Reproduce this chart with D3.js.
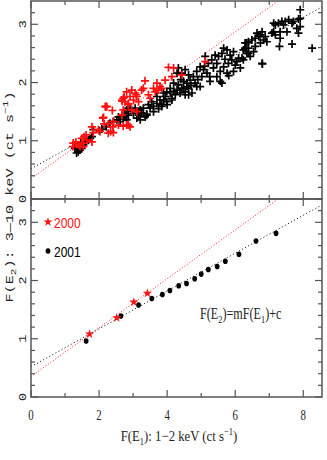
<!DOCTYPE html>
<html>
<head>
<meta charset="utf-8">
<script src="https://cdn.jsdelivr.net/npm/d3@7"></script>
<style>
  body { margin: 0; background: #fff; }
  svg { display: block; }
</style>
</head>
<body>
<div id="chart"></div>
<script>
// top panel: individual observations, 2000 (red) and 2001 (black)
var top2000 = [
  [2.74,1.75],[2.68,1.68],[2.76,1.67],[2.86,1.64],[2.20,1.58],[2.39,1.52],[2.13,1.40],[2.15,1.29],
  [2.27,1.29],[2.40,1.24],[2.34,1.16],[2.27,1.13],[2.42,1.14],[2.57,1.27],[2.71,1.25],[2.86,1.27],
  [1.98,1.19],[1.83,1.14],[1.62,1.10],[1.49,1.04],[1.56,1.07],[1.32,0.98],[1.24,0.96],[1.39,0.93],
  [1.54,0.96],[1.44,0.90],[1.64,1.01],[1.23,0.90],[1.54,0.90],[1.79,0.98],[1.79,1.24],[2.03,1.16],
  [2.42,1.33],[2.67,1.70],[2.96,1.87],[3.09,1.79],[3.25,1.87],[2.23,1.59],[2.11,1.39],[2.18,1.59],
  [4.04,2.26],[4.19,2.25],[3.35,2.03],[3.30,1.90],[3.70,1.99],[3.79,1.93],[3.84,1.90],[3.94,2.04],
  [4.14,2.10],[3.60,1.90],[3.65,1.84],[3.74,1.87],[2.81,1.84],[2.71,1.73],[2.91,1.76],[3.06,1.82],
  [3.11,1.76],[3.01,1.70],[3.16,1.67],[3.45,1.79],[3.50,1.73],[2.86,1.62],[2.96,1.53],[3.11,1.50],
  [2.71,1.53],[2.67,1.44],[2.81,1.27],[2.91,1.24],[5.12,2.36],[4.43,2.13]
];
var top2001 = [
  [1.29,0.87],[1.39,0.81],[1.44,0.84],[1.34,0.79],[1.54,0.93],[1.59,0.98],[1.69,1.01],[1.74,1.04],
  [1.79,1.07],[1.83,1.19],[2.01,1.17],[2.08,1.20],[2.21,1.24],[2.32,1.30],[2.42,1.33],[2.52,1.36],
  [2.57,1.41],[2.67,1.44],[2.76,1.47],[2.81,1.53],[2.86,1.56],[2.62,1.33],[2.71,1.37],[1.49,0.87],
  [1.46,0.96],[2.76,1.41],[2.86,1.44],[3.01,1.47],[3.16,1.44],[3.21,1.53],[3.35,1.41],[3.40,1.46],
  [3.30,1.56],[3.06,1.56],[2.91,1.56],[3.45,1.62],[3.55,1.67],[3.60,1.59],[3.70,1.64],[3.79,1.70],
  [3.84,1.62],[3.94,1.76],[3.99,1.67],[4.09,1.82],[4.14,1.73],[4.24,1.79],[4.29,1.87],[4.33,1.96],
  [4.43,1.90],[4.48,2.02],[4.58,1.93],[4.63,2.13],[4.43,2.16],[4.29,2.16],[4.53,2.22],[4.33,2.25],
  [4.09,1.90],[3.99,1.84],[3.89,1.82],[3.70,1.76],[3.50,1.56],[3.21,1.36],[2.81,1.36],[4.63,1.79],
  [4.53,1.84],[4.19,1.99],[4.48,1.90],[4.58,1.99],[4.68,2.04],[4.77,2.10],[4.87,2.19],[4.97,2.27],
  [5.07,2.22],[5.21,2.33],[5.31,2.39],[5.41,2.47],[5.51,2.45],[5.61,2.50],[5.66,2.59],[5.76,2.56],
  [5.85,2.47],[5.90,2.39],[5.80,2.33],[5.66,2.27],[5.56,2.19],[5.46,2.10],[5.36,2.25],[5.17,2.16],
  [5.02,2.10],[4.82,1.99],[4.63,1.90],[4.53,1.79],[5.95,2.53],[6.10,2.42],[6.15,2.25],[6.29,2.59],
  [6.34,2.68],[6.39,2.50],[5.61,1.99],[5.26,2.02],[4.97,1.93],[4.73,1.82],[5.76,2.16],[6.05,2.36],
  [6.24,2.39],[5.46,2.33],[5.12,2.45],[5.56,2.02],[5.95,2.19],[5.81,2.12],[4.87,1.93],[4.38,1.82],
  [4.14,1.70],[3.84,1.59],[3.40,1.44],[3.11,1.39],[7.18,2.99],[7.27,3.02],[7.37,3.05],[7.42,2.99],
  [7.57,3.08],[7.67,3.02],[7.71,3.05],[7.86,3.09],[7.91,2.96],[7.08,2.85],[7.13,2.87],[7.18,2.82],
  [7.52,2.87],[7.81,2.93],[7.86,2.85],[7.32,2.76],[7.30,2.62],[7.67,2.66],[8.26,2.59],[6.79,2.33],
  [6.29,2.68],[6.39,2.70],[6.49,2.73],[6.59,2.76],[6.69,2.79],[6.74,2.82],[6.83,2.73],[6.64,2.85],
  [6.79,2.87],[6.88,2.79],[6.24,2.56],[6.34,2.50],[6.20,2.42],[6.39,2.59],[6.59,2.62],[6.54,2.53],
  [6.74,2.68],[6.93,2.70],[6.44,2.45],[7.91,3.25],[7.91,3.10],[7.32,2.87],[7.13,3.02],[7.47,3.05],
  [6.80,2.32],[3.60,1.50],[3.75,1.55],[4.00,1.62],[4.20,1.85],[4.40,2.05],[4.90,2.05],[5.10,2.28],
  [5.25,2.10],[5.70,2.40],[6.00,2.30],[3.25,1.48],[3.90,1.70],[4.70,1.95]
];

// bottom panel: binned averages
var bin2000 = [[1.72,1.08],[2.52,1.36],[3.02,1.63],[3.42,1.78]];
var bin2001 = [
  [1.62,0.96],[2.64,1.39],[3.16,1.58],[3.55,1.69],[3.86,1.76],[4.08,1.83],[4.34,1.91],[4.57,1.95],
  [4.81,2.03],[5.00,2.11],[5.21,2.19],[5.47,2.24],[5.71,2.33],[6.11,2.45],[6.61,2.68],[7.20,2.81]
];

// fitted lines F(E2) = m F(E1) + c
var fit2000 = {m: 0.42, c: 0.35};
var fit2001 = {m: 0.325, c: 0.52};

var xMajor = [0, 2, 4, 6, 8];
var xMinor = [1, 3, 5, 7];
var yMajor = [0, 1, 2, 3];
var yMinor = [0.2,0.4,0.6,0.8,1.2,1.4,1.6,1.8,2.2,2.4,2.6,2.8,3.2];

var width = 327, height = 460;
var frameColor = '#555';

var svg = d3.select('#chart').append('svg')
    .attr('width', width)
    .attr('height', height);

var x = d3.scaleLinear().domain([0, 8.55]).range([31, 322]);
var yTop = d3.scaleLinear().domain([0, 3.4]).range([199, 1]);
var yBot = d3.scaleLinear().domain([0, 3.4]).range([397, 199]);

var defs = svg.append('defs');
[['clipTop', yTop], ['clipBot', yBot]].forEach(function (c) {
    defs.append('clipPath').attr('id', c[0])
        .append('rect')
        .attr('x', x(0)).attr('y', c[1](3.4))
        .attr('width', x(8.55) - x(0))
        .attr('height', c[1](0) - c[1](3.4));
});

function drawLines(g, y) {
    [[fit2000, '#ff2020', '1,2'], [fit2001, '#000', '1,2.5']].forEach(function (f) {
        var p = f[0];
        g.append('line')
            .attr('x1', x(0)).attr('y1', y(p.c))
            .attr('x2', x(8.55)).attr('y2', y(p.c + p.m * 8.55))
            .attr('stroke', f[1])
            .attr('stroke-width', 1)
            .attr('stroke-dasharray', f[2]);
    });
}

function drawFrame(y) {
    var g = svg.append('g');
    var y0 = y.range()[0], y1 = y.range()[1];
    g.append('rect')
        .attr('x', x(0)).attr('y', y1)
        .attr('width', x(8.55) - x(0)).attr('height', y0 - y1)
        .attr('fill', 'none').attr('stroke', frameColor).attr('stroke-width', 1.5);

    // inward ticks on all four sides
    var xt = xMajor.map(function (d) { return [d, 7]; }).concat(xMinor.map(function (d) { return [d, 4]; }));
    xt.forEach(function (t) {
        g.append('line').attr('x1', x(t[0])).attr('x2', x(t[0]))
            .attr('y1', y0).attr('y2', y0 - t[1])
            .attr('stroke', frameColor).attr('stroke-width', 1.2);
        g.append('line').attr('x1', x(t[0])).attr('x2', x(t[0]))
            .attr('y1', y1).attr('y2', y1 + t[1])
            .attr('stroke', frameColor).attr('stroke-width', 1.2);
    });
    var yt = yMajor.map(function (d) { return [d, 7]; }).concat(yMinor.map(function (d) { return [d, 4]; }));
    yt.forEach(function (t) {
        g.append('line').attr('x1', x(0)).attr('x2', x(0) + t[1])
            .attr('y1', y(t[0])).attr('y2', y(t[0]))
            .attr('stroke', frameColor).attr('stroke-width', 1.2);
        g.append('line').attr('x1', x(8.55)).attr('x2', x(8.55) - t[1])
            .attr('y1', y(t[0])).attr('y2', y(t[0]))
            .attr('stroke', frameColor).attr('stroke-width', 1.2);
    });

    // rotated y tick labels
    g.selectAll('text.ytick')
        .data(yMajor)
        .enter().append('text')
        .attr('class', 'ytick')
        .attr('transform', function (d) {
            return 'translate(26,' + y(d) + ') rotate(-90) scale(1.35,1)';
        })
        .attr('text-anchor', 'middle')
        .style('font-family', 'Liberation Mono, DejaVu Sans Mono, monospace')
        .style('font-size', '10px')
        .attr('fill', '#222')
        .text(function (d) { return d; });
}

function crossPath(d, y) {
    var cx = x(d[0]), cy = y(d[1]), r = 4;
    return 'M' + (cx - r) + ',' + cy + 'H' + (cx + r) + 'M' + cx + ',' + (cy - r) + 'V' + (cy + r);
}

// ---- top panel
var gTop = svg.append('g').attr('clip-path', 'url(#clipTop)');
drawLines(gTop, yTop);
gTop.selectAll('path.c2001')
    .data(top2001)
    .enter().append('path')
    .attr('class', 'c2001')
    .attr('d', function (d) { return crossPath(d, yTop); })
    .attr('stroke', '#000').attr('stroke-width', 1.7);
gTop.selectAll('path.c2000')
    .data(top2000)
    .enter().append('path')
    .attr('class', 'c2000')
    .attr('d', function (d) { return crossPath(d, yTop); })
    .attr('stroke', '#ff1010').attr('stroke-width', 1.7);
drawFrame(yTop);

// ---- bottom panel
var gBot = svg.append('g').attr('clip-path', 'url(#clipBot)');
drawLines(gBot, yBot);
var star = d3.symbol().type(d3.symbolStar).size(26);
gBot.selectAll('ellipse')
    .data(bin2001)
    .enter().append('ellipse')
    .attr('cx', function (d) { return x(d[0]); })
    .attr('cy', function (d) { return yBot(d[1]); })
    .attr('rx', 2.4).attr('ry', 2.8)
    .attr('fill', '#000');
gBot.selectAll('path.s2000')
    .data(bin2000)
    .enter().append('path')
    .attr('class', 's2000')
    .attr('d', star)
    .attr('transform', function (d) { return 'translate(' + x(d[0]) + ',' + yBot(d[1]) + ')'; })
    .attr('fill', '#ff1010');
drawFrame(yBot);

// x tick labels (bottom panel only)
svg.selectAll('text.xtick')
    .data(xMajor)
    .enter().append('text')
    .attr('class', 'xtick')
    .attr('transform', function (d) { return 'translate(' + x(d) + ',420) scale(0.72,1)'; })
    .attr('text-anchor', 'middle')
    .style('font-family', 'Liberation Serif, serif')
    .style('font-size', '15px')
    .attr('fill', '#222')
    .text(function (d) { return d; });

// x axis title
var xt = svg.append('text')
    .attr('transform', 'translate(179,441) scale(0.85,1)')
    .attr('text-anchor', 'middle')
    .style('font-family', 'Liberation Serif, serif')
    .style('font-size', '15px')
    .attr('fill', '#222');
xt.append('tspan').text('F(E');
xt.append('tspan').attr('dy', 4).style('font-size', '10px').text('1');
xt.append('tspan').attr('dy', -4).text('): 1\u22122 keV (ct s');
xt.append('tspan').attr('dy', -6).style('font-size', '10px').text('\u22121');
xt.append('tspan').attr('dy', 6).text(')');

// y axis title
var yt = svg.append('text')
    .attr('transform', 'translate(13,197) rotate(-90) scale(1.38,1)')
    .attr('text-anchor', 'middle')
    .style('font-family', 'Liberation Mono, DejaVu Sans Mono, monospace')
    .style('font-size', '11px')
    .attr('fill', '#222');
yt.append('tspan').text('F(E');
yt.append('tspan').attr('dy', 3).style('font-size', '8px').text('2');
yt.append('tspan').attr('dy', -3).text('): 3\u201410 keV (ct s');
yt.append('tspan').attr('dy', -5).style('font-size', '8px').text('\u22121');
yt.append('tspan').attr('dy', 5).text(')');

// legend
var legend = [
    {label: '2000', color: '#ff1010', y: 222, kind: 'star'},
    {label: '2001', color: '#000', y: 251, kind: 'dot'}
];
legend.forEach(function (l) {
    if (l.kind === 'star') {
        svg.append('path').attr('d', star)
            .attr('transform', 'translate(48,' + l.y + ')')
            .attr('fill', l.color);
    } else {
        svg.append('ellipse').attr('cx', 48).attr('cy', l.y)
            .attr('rx', 2.4).attr('ry', 2.8).attr('fill', l.color);
    }
    svg.append('text')
        .attr('transform', 'translate(54,' + (l.y + 5.5) + ') scale(0.8,1)')
        .style('font-family', 'Liberation Sans Narrow, Liberation Sans, sans-serif')
        .style('font-size', '15px')
        .attr('fill', l.color)
        .text(l.label);
});

// fit relation
var ann = svg.append('text')
    .attr('transform', 'translate(200,319) scale(0.76,1)')
    .style('font-family', 'Liberation Serif, serif')
    .style('font-size', '16px')
    .attr('fill', '#222');
ann.append('tspan').text('F(E');
ann.append('tspan').attr('dy', 4).style('font-size', '11px').text('2');
ann.append('tspan').attr('dy', -4).text(')=mF(E');
ann.append('tspan').attr('dy', 4).style('font-size', '11px').text('1');
ann.append('tspan').attr('dy', -4).text(')+c');
</script>
</body>
</html>
